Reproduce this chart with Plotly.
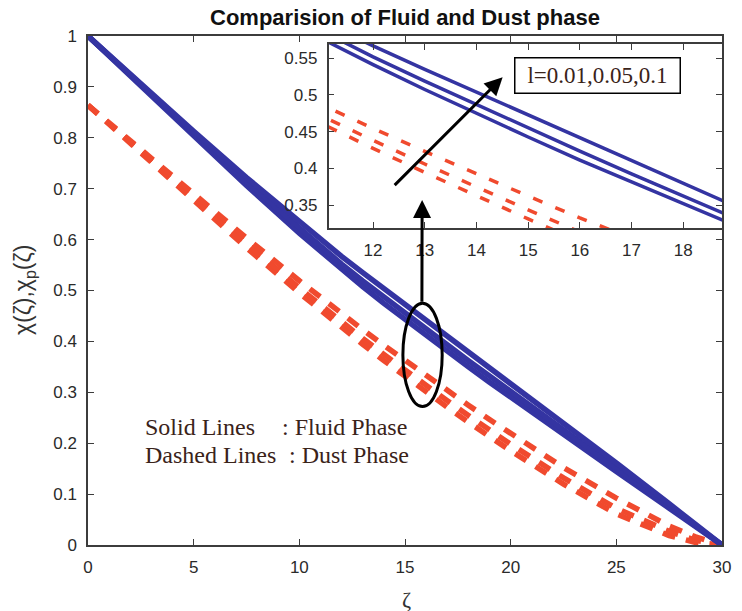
import plotly.graph_objects as go

# Similarity variable and profiles for the three values of l
zeta = [0, 2.5, 5, 7.5, 10, 11, 12, 13, 14, 15, 16, 17, 18, 19, 20, 22.5, 25, 27.5, 28.75, 30]
l_values = ["0.01", "0.05", "0.1"]

fluid_l001 = [1.000, 0.901, 0.803, 0.7065, 0.6125, 0.5763, 0.5413, 0.5075, 0.4747, 0.4427,
              0.4113, 0.3804, 0.3499, 0.3198, 0.2900, 0.2168, 0.1443, 0.0723, 0.0362, 0.0]
fluid_l005 = [1.000, 0.904, 0.808, 0.714, 0.623, 0.587, 0.552, 0.519, 0.487, 0.455,
              0.4235, 0.3925, 0.362, 0.332, 0.302, 0.2275, 0.152, 0.076, 0.038, 0.0]
fluid_l01 = [1.000, 0.906, 0.813, 0.722, 0.634, 0.600, 0.567, 0.535, 0.504, 0.473,
             0.442, 0.411, 0.380, 0.349, 0.318, 0.240, 0.161, 0.081, 0.0405, 0.0]

dust_l001 = [0.864, 0.7695, 0.676, 0.584, 0.4953, 0.4608, 0.4272, 0.3944, 0.3624, 0.3311,
             0.3005, 0.2706, 0.2414, 0.2129, 0.1851, 0.1196, 0.0611, 0.0186, 0.0049, 0.0]
dust_l005 = [0.864, 0.7723, 0.6815, 0.5923, 0.505, 0.4711, 0.4381, 0.4059, 0.3744, 0.3435,
             0.3132, 0.2835, 0.2544, 0.2259, 0.1980, 0.1318, 0.0718, 0.0268, 0.0093, 0.0]
dust_l01 = [0.864, 0.776, 0.689, 0.6032, 0.5192, 0.4864, 0.4544, 0.4231, 0.3924, 0.3622,
            0.3325, 0.3033, 0.2746, 0.2464, 0.2187, 0.1522, 0.0922, 0.0372, 0.0160, 0.0]

main_xticks = [0, 5, 10, 15, 20, 25, 30]
main_yticks = [0, 0.1, 0.2, 0.3, 0.4, 0.5, 0.6, 0.7, 0.8, 0.9, 1.0]
inset_xticks = [12, 13, 14, 15, 16, 17, 18]
inset_yticks = [0.35, 0.4, 0.45, 0.5, 0.55]

BLUE = "#3434a2"
RED = "#f04a2e"
SANS = "Liberation Sans, Arial, sans-serif"
SERIF = "Liberation Serif, Times New Roman, serif"
TEXT = "#3a2319"

fluid = [fluid_l001, fluid_l005, fluid_l01]
dust = [dust_l001, dust_l005, dust_l01]

# main panel uses heavier strokes than the magnified inset
panels = [
    ("x", "y", dict(width=5.5), dict(width=5.5, dash="13px,11px")),
    ("x2", "y2", dict(width=3.5), dict(width=3.5, dash="10px,14px")),
]

fig = go.Figure()
for xa, ya, solid_style, dash_style in panels:
    for lv, ys in zip(l_values, dust):
        fig.add_trace(go.Scatter(
            x=zeta, y=ys, xaxis=xa, yaxis=ya, mode="lines", name=f"dust l={lv}",
            line=dict(color=RED, **dash_style),
            showlegend=False, hoverinfo="skip"))
    for lv, ys in zip(l_values, fluid):
        fig.add_trace(go.Scatter(
            x=zeta, y=ys, xaxis=xa, yaxis=ya, mode="lines", name=f"fluid l={lv}",
            line=dict(color=BLUE, **solid_style),
            showlegend=False, hoverinfo="skip"))

axis_common = dict(
    showline=True, linecolor="#3c3c3c", linewidth=1.5, mirror="ticks",
    ticks="inside", ticklen=6, tickwidth=1.2, tickcolor="#3c3c3c",
    showgrid=False, zeroline=False,
    tickfont=dict(family=SANS, size=17, color="#2a2a2a"),
)

fig.update_layout(
    width=742, height=611,
    margin=dict(l=87.5, r=11, t=36, b=66),
    paper_bgcolor="white", plot_bgcolor="white",
    title=dict(text="<b>Comparision of Fluid and Dust phase</b>",
               x=0.5, xref="paper", xanchor="center",
               y=0.972, yref="container", yanchor="middle",
               font=dict(family=SANS, size=22, color="#111111")),
    xaxis=dict(domain=[0, 1], range=[0, 30], tickvals=main_xticks,
               ticklabelstandoff=6, **axis_common),
    yaxis=dict(domain=[0, 1], range=[0, 1], tickvals=main_yticks,
               ticklabelstandoff=6, **axis_common),
    xaxis2=dict(domain=[0.3795, 1.0], range=[11.14, 18.75], tickvals=inset_xticks,
                anchor="y2", ticklabelstandoff=6, **axis_common),
    yaxis2=dict(domain=[0.6228, 0.9843], range=[0.3187, 0.5695], tickvals=inset_yticks,
                anchor="x2", ticklabelstandoff=6, **axis_common),
)

# Ellipse marking the region that the inset magnifies
fig.add_shape(type="circle", xref="x", yref="y", x0=14.9, x1=16.76, y0=0.272, y1=0.475,
              line=dict(color="black", width=3), layer="above")

annotations = [
    # arrow from the ellipse up to the inset
    dict(x=15.81, y=0.678, ax=15.8, ay=0.475, xref="x", yref="y", axref="x", ayref="y",
         showarrow=True, arrowhead=2, arrowsize=1.2, arrowwidth=3, arrowcolor="black", text=""),
    # arrow indicating increasing l
    dict(x=19.62, y=0.919, ax=14.44, ay=0.704, xref="x", yref="y", axref="x", ayref="y",
         showarrow=True, arrowhead=2, arrowsize=1.2, arrowwidth=3, arrowcolor="black", text=""),
    dict(x=24.12, y=0.9218, xref="x", yref="y", showarrow=False,
         text="l=0.01,0.05,0.1", font=dict(family=SERIF, size=23, color=TEXT),
         bgcolor="white", bordercolor="black", borderwidth=1.5, borderpad=3,
         width=158, height=28),
    dict(x=2.59, y=0.2324, xref="x", yref="y", xanchor="left", showarrow=False,
         text="Solid Lines", font=dict(family=SERIF, size=24, color=TEXT)),
    dict(x=9.1, y=0.2324, xref="x", yref="y", xanchor="left", showarrow=False,
         text=": Fluid Phase", font=dict(family=SERIF, size=24, color=TEXT)),
    dict(x=2.59, y=0.1768, xref="x", yref="y", xanchor="left", showarrow=False,
         text="Dashed Lines", font=dict(family=SERIF, size=24, color=TEXT)),
    dict(x=9.4, y=0.1768, xref="x", yref="y", xanchor="left", showarrow=False,
         text=": Dust Phase", font=dict(family=SERIF, size=24, color=TEXT)),
    # axis titles
    dict(x=-0.1, y=0.5, xref="paper", yref="paper", xanchor="center", yanchor="middle",
         showarrow=False, textangle=-90,
         text="χ(ζ),χ<sub>p</sub>(ζ)", font=dict(family=SANS, size=23, color="#333333")),
    dict(x=0.503, y=-0.108, xref="paper", yref="paper", xanchor="center", yanchor="middle",
         showarrow=False, text="ζ", font=dict(family=SERIF, size=22, color="#333333")),
]
fig.update_layout(annotations=annotations)

fig.write_html("out.html")
